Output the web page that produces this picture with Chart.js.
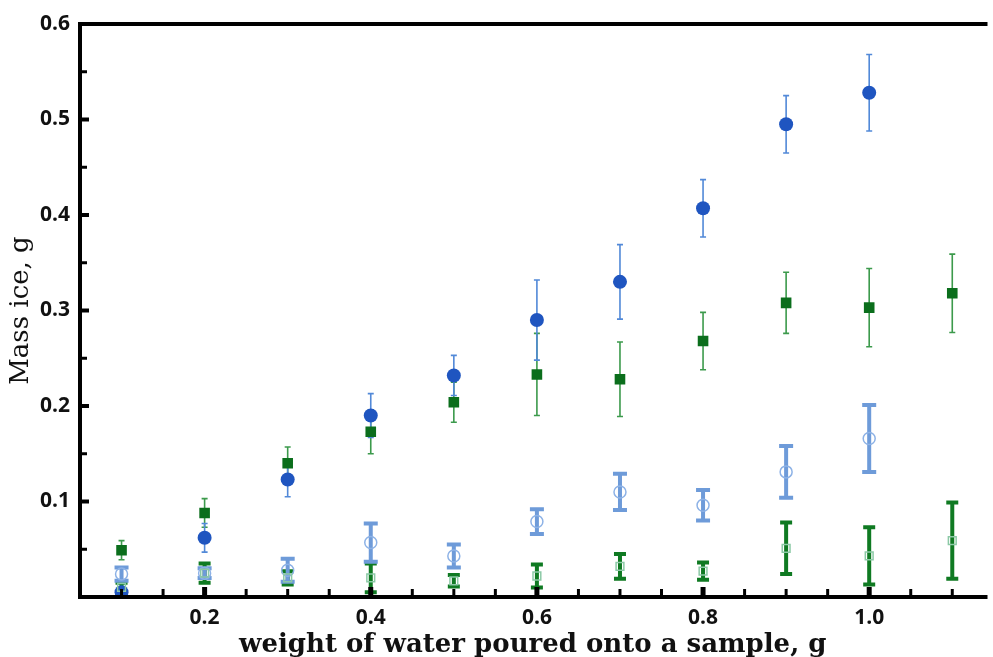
<!DOCTYPE html>
<html>
<head>
<meta charset="utf-8">
<script src="https://cdn.jsdelivr.net/npm/chart.js@4.4.1/dist/chart.umd.min.js"></script>
<style>
  html, body { margin: 0; padding: 0; background: #fff; }
  #wrap { width: 993px; height: 657px; position: relative; }
</style>
</head>
<body>
<div id="wrap"><canvas id="iceChart"></canvas></div>
<script>
// weight of water poured (g) and ice mass (g) per series, with ± errors
const X_POINTS = [0.1, 0.2, 0.3, 0.4, 0.5, 0.6, 0.7, 0.8, 0.9, 1.0, 1.1];

const blueFilled    = [0.005, 0.062, 0.123, 0.190, 0.232, 0.290, 0.330, 0.407, 0.495, 0.528];
const blueFilledErr = [0.004, 0.015, 0.018, 0.023, 0.021, 0.042, 0.039, 0.030, 0.030, 0.040];

const greenFilled    = [0.049, 0.088, 0.140, 0.173, 0.204, 0.233, 0.228, 0.268, 0.308, 0.303, 0.318];
const greenFilledErr = [0.010, 0.015, 0.017, 0.023, 0.021, 0.043, 0.039, 0.030, 0.032, 0.041, 0.041];

const blueOpen    = [0.024, 0.025, 0.028, 0.057, 0.043, 0.079, 0.110, 0.096, 0.131, 0.166];
const blueOpenErr = [0.007, 0.005, 0.012, 0.020, 0.012, 0.013, 0.019, 0.016, 0.027, 0.035];

const greenOpen    = [0.010, 0.025, 0.020, 0.020, 0.017, 0.022, 0.032, 0.027, 0.051, 0.043, 0.059];
const greenOpenErr = [0.005, 0.010, 0.007, 0.015, 0.006, 0.012, 0.013, 0.009, 0.027, 0.030, 0.040];

const X_LABELS = ['0.2', '0.4', '0.6', '0.8', '1.0'];
const Y_LABELS = ['0.1', '0.2', '0.3', '0.4', '0.5', '0.6'];

const TICK_FONT = "'Open Sans', sans-serif";
const TITLE_FONT = "'DejaVu Serif', serif";

function toPoints(vals) {
  return vals.map((v, i) => ({ x: X_POINTS[i], y: v }));
}

// vertical error bars drawn through the chart's own scales
const errorBars = {
  id: 'errorBars',
  beforeDatasetsDraw(chart) {
    const { ctx, scales: { x, y } } = chart;
    chart.data.datasets.forEach(ds => {
      if (!ds.err) return;
      ctx.save();
      ctx.strokeStyle = ds.errColor;
      ctx.lineWidth = ds.errWidth;
      ctx.lineCap = 'butt';
      ds.data.forEach((p, i) => {
        const e = ds.err[i];
        const px = x.getPixelForValue(p.x);
        const top = y.getPixelForValue(p.y + e);
        const bot = y.getPixelForValue(Math.max(0, p.y - e));
        ctx.beginPath();
        ctx.moveTo(px, top); ctx.lineTo(px, bot);
        ctx.moveTo(px - ds.capHalf, top); ctx.lineTo(px + ds.capHalf, top);
        ctx.moveTo(px - ds.capHalf, bot); ctx.lineTo(px + ds.capHalf, bot);
        ctx.stroke();
      });
      ctx.restore();
    });
  }
};

// thick frame with inward ticks
const frame = {
  id: 'frame',
  afterDatasetsDraw(chart) {
    const { ctx, chartArea: a, scales: { x, y } } = chart;
    ctx.save();
    ctx.strokeStyle = '#000';
    ctx.lineWidth = 4;
    ctx.beginPath();
    ctx.moveTo(a.right + 2, a.top); ctx.lineTo(a.left, a.top);
    ctx.lineTo(a.left, a.bottom); ctx.lineTo(a.right + 2, a.bottom);
    ctx.stroke();
    for (let k = 1; k <= 22; k++) {
      const v = k * 0.05;
      if (v <= x.min + 1e-6 || v >= x.max) continue;
      const major = k % 4 === 0;
      const px = x.getPixelForValue(v);
      ctx.lineWidth = major ? 5 : 3;
      ctx.beginPath();
      ctx.moveTo(px, a.bottom); ctx.lineTo(px, a.bottom - (major ? 10 : 8));
      ctx.stroke();
    }
    for (let k = 1; k < 12; k++) {
      const v = k * 0.05;
      const major = k % 2 === 0;
      const py = y.getPixelForValue(v);
      ctx.lineWidth = major ? 4 : 3;
      ctx.beginPath();
      ctx.moveTo(a.left, py); ctx.lineTo(a.left + (major ? 9 : 7), py);
      ctx.stroke();
    }
    ctx.restore();
  }
};

const ctx = document.getElementById('iceChart');
new Chart(ctx, {
  type: 'scatter',
  data: {
    datasets: [
      {
        label: 'open squares', data: toPoints(greenOpen), err: greenOpenErr,
        errColor: '#0f7a22', errWidth: 4, capHalf: 6,
        pointStyle: 'rect', pointRadius: 5.5, borderWidth: 1.5,
        borderColor: '#8cc9a6', backgroundColor: 'rgba(0,0,0,0)',
      },
      {
        label: 'open circles', data: toPoints(blueOpen), err: blueOpenErr,
        errColor: '#6e9bd9', errWidth: 4, capHalf: 7,
        pointStyle: 'circle', pointRadius: 6, borderWidth: 1.5,
        borderColor: '#8db2e6', backgroundColor: 'rgba(0,0,0,0)',
      },
      {
        label: 'filled squares', data: toPoints(greenFilled), err: greenFilledErr,
        errColor: '#3c9a4c', errWidth: 1.6, capHalf: 3,
        pointStyle: 'rect', pointRadius: 7.5, borderWidth: 0,
        borderColor: '#0b6e1c', backgroundColor: '#0b6e1c',
      },
      {
        label: 'filled circles', data: toPoints(blueFilled), err: blueFilledErr,
        errColor: '#5289d8', errWidth: 1.6, capHalf: 3,
        pointStyle: 'circle', pointRadius: 7, borderWidth: 0,
        borderColor: '#1f55c0', backgroundColor: '#1f55c0',
      },
    ],
  },
  options: {
    responsive: true, maintainAspectRatio: false, animation: false,
    layout: { padding: { top: 24, right: 0, left: 0, bottom: 0 } },
    plugins: { legend: { display: false }, tooltip: { enabled: false } },
    scales: {
      x: {
        type: 'linear', min: 0.05, max: 1.14,
        grid: { display: false, drawTicks: false }, border: { display: false },
        afterFit: s => { s.height = 60; },
        ticks: {
          stepSize: 0.05, autoSkip: false, includeBounds: false, padding: 8,
          color: '#111', font: { family: TICK_FONT, size: 21, weight: 'bold' },
          callback: v => {
            const s = v.toFixed(1);
            return (Math.abs(v * 10 - Math.round(v * 10)) < 1e-6 && X_LABELS.includes(s)) ? s : '';
          },
        },
        title: {
          display: true, text: 'weight of water poured onto a sample, g',
          color: '#111', padding: { top: 0, bottom: -4 },
          font: { family: TITLE_FONT, size: 26, weight: 'bold' },
        },
      },
      y: {
        type: 'linear', min: 0, max: 0.6,
        grid: { display: false, drawTicks: false }, border: { display: false },
        afterFit: s => { s.width = 80; },
        ticks: {
          stepSize: 0.05, autoSkip: false, padding: 10,
          color: '#111', font: { family: TICK_FONT, size: 21, weight: 'bold' },
          callback: v => {
            const s = v.toFixed(1);
            return (Math.abs(v * 10 - Math.round(v * 10)) < 1e-6 && Y_LABELS.includes(s)) ? s : '';
          },
        },
        title: {
          display: true, text: 'Mass ice, g',
          color: '#111', padding: { top: 6, bottom: 0 },
          font: { family: TITLE_FONT, size: 26 },
        },
      },
    },
  },
  plugins: [errorBars, frame],
});
</script>
</body>
</html>
